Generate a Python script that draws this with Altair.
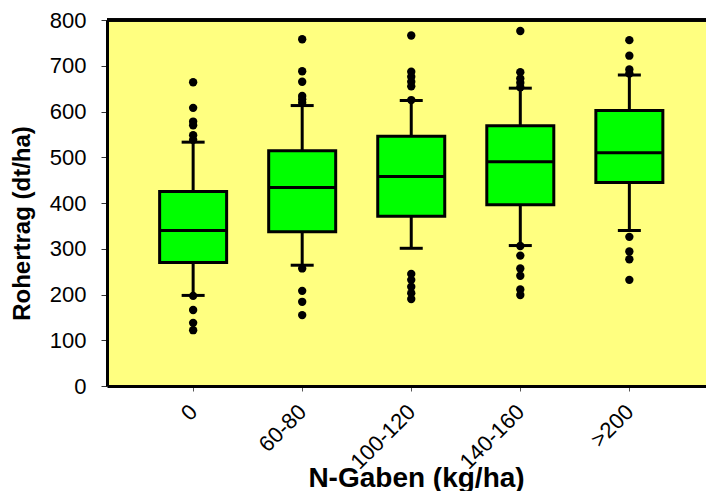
import json
import altair as alt
import pandas as pd

# ---- data ----
categories = ["0", "60-80", "100-120", "140-160", ">200"]
q1 = [270, 337, 371, 396, 445]
median = [340, 434, 458, 490, 510]
q3 = [425, 514, 546, 569, 602]
whisker_low = [198, 264, 301, 307, 340]
whisker_high = [533, 613, 624, 651, 680]

outliers_0 = [664, 608, 578, 570, 548, 538, 197, 166, 138, 122]
outliers_60_80 = [758, 688, 665, 634, 627, 619, 257, 208, 184, 155]
outliers_100_120 = [766, 687, 676, 665, 655, 625, 245, 232, 217, 203, 190]
outliers_140_160 = [776, 686, 672, 663, 653, 306, 285, 257, 241, 211, 199]
outliers_200 = [756, 722, 692, 683, 326, 294, 277, 232]

y_ticks = [0, 100, 200, 300, 400, 500, 600, 700, 800]

# ---- tables ----
boxes = pd.DataFrame({
    "idx": list(range(len(categories))),
    "cat": categories,
    "q1": q1, "median": median, "q3": q3,
    "wlo": whisker_low, "whi": whisker_high,
})
all_out = [outliers_0, outliers_60_80, outliers_100_120, outliers_140_160, outliers_200]
out_rows = [{"idx": i, "value": v} for i, lst in enumerate(all_out) for v in lst]
outliers = pd.DataFrame(out_rows)

FONT = "Liberation Sans"
W, H = 599, 366

x_enc = alt.X(
    "idx:Q",
    scale=alt.Scale(domain=[-0.744, 4.657], nice=False, zero=False),
    axis=alt.Axis(
        values=[0, 1, 2, 3, 4],
        labelExpr=f"{json.dumps(categories)}[datum.value]",
        labelAngle=-45, labelAlign="right", labelBaseline="middle",
        labelPadding=17, labelFont=FONT, labelFontSize=22, labelColor="black",
        tickSize=5, tickColor="#555555", tickWidth=1,
        domainColor="black", domainWidth=3, grid=False,
        title="N-Gaben (kg/ha)", titleFont=FONT, titleFontSize=28,
        titleFontWeight="bold", titleColor="black",
        titleX=309, titleY=100, titleAlign="center", titleBaseline="alphabetic",
    ),
)

def y_enc(field):
    return alt.Y(
        field,
        scale=alt.Scale(domain=[0, 800], nice=False),
        axis=alt.Axis(
            values=y_ticks, labelFont=FONT, labelFontSize=22, labelColor="black",
            labelPadding=15, tickSize=6, tickColor="#333333", tickWidth=1,
            domainColor="black", domainWidth=3, grid=False,
            title="Rohertrag (dt/ha)", titleFont=FONT, titleFontSize=24,
            titleFontWeight="bold", titleColor="black", titleAngle=-90,
            titleX=-78, titleY=203, titleAlign="center", titleBaseline="alphabetic",
        ),
    )

base = alt.Chart(boxes)

whisk_low = base.mark_rule(color="black", strokeWidth=3).encode(
    x=x_enc, y=y_enc("wlo:Q"), y2="q1:Q")
whisk_high = base.mark_rule(color="black", strokeWidth=3).encode(
    x=x_enc, y=y_enc("q3:Q"), y2="whi:Q")
cap_low = base.mark_tick(orient="horizontal", size=23, thickness=3, color="black", opacity=1).encode(
    x=x_enc, y=y_enc("wlo:Q"))
cap_high = base.mark_tick(orient="horizontal", size=23, thickness=3, color="black", opacity=1).encode(
    x=x_enc, y=y_enc("whi:Q"))
box = base.mark_bar(size=67, color="#00FF00", stroke="black", strokeWidth=3, opacity=1).encode(
    x=x_enc, y=y_enc("q1:Q"), y2="q3:Q")
med = base.mark_tick(orient="horizontal", size=67, thickness=3, color="black", opacity=1).encode(
    x=x_enc, y=y_enc("median:Q"))
pts = alt.Chart(outliers).mark_circle(size=70, color="black", opacity=1).encode(
    x=x_enc, y=y_enc("value:Q"))
top_border = alt.Chart(boxes).mark_rule(color="black", strokeWidth=3).encode(
    x=alt.value(0), x2=alt.value(W + 4), y=alt.value(0))

chart = alt.layer(
    whisk_low, whisk_high, cap_low, cap_high, box, med, pts, top_border
).properties(
    width=W, height=H,
    autosize="none",
    padding={"left": 99, "top": 12, "right": 0, "bottom": 105},
).configure_view(
    fill="#FFFF80", strokeWidth=0,
)

chart.save("out.html", embed_options={"renderer": "svg", "actions": False})
